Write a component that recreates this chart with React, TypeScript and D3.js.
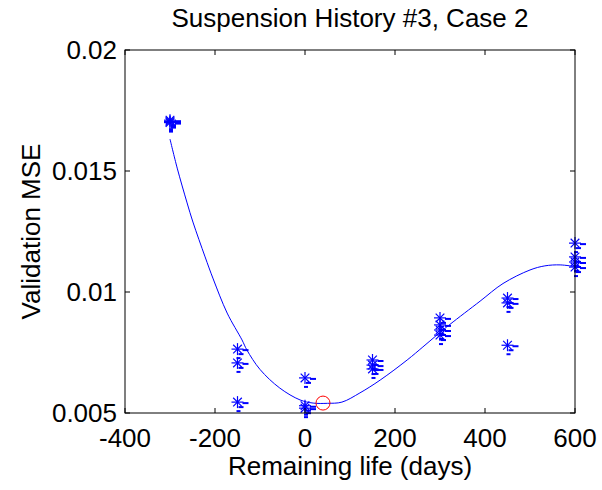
import React from "react";
import * as d3 from "d3";

const title = "Suspension History #3, Case 2";
const xLabel = "Remaining life (days)";
const yLabel = "Validation MSE";
const xTicks = [-400, -200, 0, 200, 400, 600];
const yTicks = [0.005, 0.01, 0.015, 0.02];
const yTickLabels = ["0.005", "0.01", "0.015", "0.02"];

const pointX = [-300, -300, -300, -150, -150, -150, 0, 0, 0, 150, 150, 150, 300, 300, 300, 300, 450, 450, 450, 600, 600, 600, 600];
const pointY = [0.0171, 0.01705, 0.0170, 0.00764, 0.00707, 0.00545, 0.00645, 0.0053, 0.0052, 0.00719, 0.00698, 0.00682, 0.00893, 0.00864, 0.00843, 0.00822, 0.00975, 0.00955, 0.0078, 0.01202, 0.01145, 0.01124, 0.01103];

const curveX = [-300, -284, -262, -249, -222, -204, -173, -140, -129, -100, -56, -11, 18, 50, 82, 122, 167, 227, 262, 293, 322, 389, 440, 500, 533, 567, 600];
const curveY = [0.01632, 0.01512, 0.01368, 0.01289, 0.01145, 0.01054, 0.00913, 0.00802, 0.0076, 0.0068, 0.00603, 0.00554, 0.00541, 0.0054, 0.00545, 0.00583, 0.00636, 0.00719, 0.00773, 0.00822, 0.00866, 0.00962, 0.01035, 0.01091, 0.01108, 0.01112, 0.01105];

const optX = [40];
const optY = [0.00541];

const W = 602, H = 490;
const L = 125, R = 575, T = 50, B = 413;
const font = "'Liberation Sans', Arial, sans-serif";

export default function App() {
  const x = d3.scaleLinear().domain([-400, 600]).range([L, R]);
  const y = d3.scaleLinear().domain([0.005, 0.02]).range([B, T]);
  const line = d3.line<number>().x((_, i) => x(curveX[i])).y((_, i) => y(curveY[i])).curve(d3.curveCatmullRom);
  const blue = "#0000ff";
  const tl = 5;
  return (
    <div style={{ position: "absolute", left: 0, top: 0 }}>
      <svg width={W} height={H} style={{ display: "block", background: "#fff" }}>
        <rect x={0} y={0} width={W} height={H} fill="#fff" />
        <path d={line(curveX) || ""} fill="none" stroke={blue} strokeWidth={1} />
        {pointX.map((px, i) => {
          const cx = x(px), cy = y(pointY[i]);
          const r = 6, d = r * 0.72;
          return (
            <g key={i} stroke={blue} strokeWidth={1.2} fill="none">
              <line x1={cx - r} y1={cy} x2={cx + r} y2={cy} />
              <line x1={cx} y1={cy - r} x2={cx} y2={cy + r} />
              <line x1={cx - d} y1={cy - d} x2={cx + d} y2={cy + d} />
              <line x1={cx - d} y1={cy + d} x2={cx + d} y2={cy - d} />
              <line x1={cx + 5} y1={cy + 1} x2={cx + 11} y2={cy + 1} strokeWidth={2} />
              <line x1={cx + 1} y1={cy + 5} x2={cx + 6} y2={cy + 5} strokeWidth={2} />
              <line x1={cx - 1} y1={cy + 9} x2={cx + 3} y2={cy + 9} strokeWidth={2} />
            </g>
          );
        })}
        {optX.map((ox, i) => (
          <circle key={i} cx={x(ox)} cy={y(optY[i])} r={7} fill="none" stroke="#ff0000" strokeWidth={1} />
        ))}
        <rect x={L} y={T} width={R - L} height={B - T} fill="none" stroke="#000" strokeWidth={1} />
        {xTicks.map((t) => (
          <g key={t}>
            <line x1={x(t)} y1={B} x2={x(t)} y2={B - tl} stroke="#000" />
            <line x1={x(t)} y1={T} x2={x(t)} y2={T + tl} stroke="#000" />
            <text x={x(t)} y={447} textAnchor="middle" fontFamily={font} fontSize={26} fill="#000">{t}</text>
          </g>
        ))}
        {yTicks.map((t, i) => (
          <g key={t}>
            <line x1={L} y1={y(t)} x2={L + tl} y2={y(t)} stroke="#000" />
            <line x1={R} y1={y(t)} x2={R - tl} y2={y(t)} stroke="#000" />
            <text x={117} y={y(t)} dy="0.35em" textAnchor="end" fontFamily={font} fontSize={26} fill="#000">{yTickLabels[i]}</text>
          </g>
        ))}
        <text x={(L + R) / 2} y={27} textAnchor="middle" fontFamily={font} fontSize={26} fill="#000">{title}</text>
        <text x={(L + R) / 2} y={475} textAnchor="middle" fontFamily={font} fontSize={26} fill="#000">{xLabel}</text>
        <text transform={`translate(40,${(T + B) / 2}) rotate(-90)`} textAnchor="middle" fontFamily={font} fontSize={26} fill="#000">{yLabel}</text>
      </svg>
    </div>
  );
}
